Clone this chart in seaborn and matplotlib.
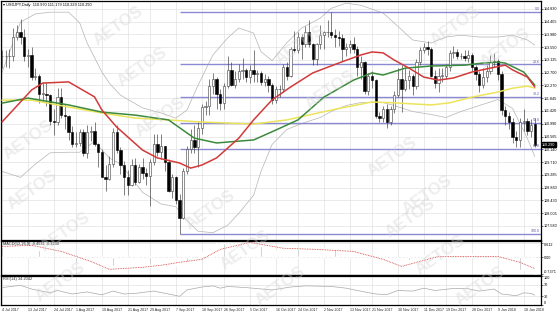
import numpy as np
import matplotlib
matplotlib.use("Agg")
import matplotlib.pyplot as plt
import seaborn as sns

sns.set_style("white")
plt.rcParams['font.family'] = ['Liberation Sans', 'DejaVu Sans']

# ---------------- data ----------------
opens = [113.25,113.25,113.25,113.25,113.90,114.05,113.90,113.25,113.30,112.55,
         112.60,112.00,112.00,111.95,111.10,111.05,111.90,111.30,111.25,110.70,
         110.30,110.35,110.70,110.00,110.70,110.75,110.30,110.05,109.20,109.15,
         109.65,110.70,110.10,109.60,109.20,108.95,109.60,109.05,109.55,109.35,
         109.25,109.70,110.30,110.05,110.25,109.70,108.75,109.20,108.45,107.85,
         109.40,110.15,110.45,110.20,110.85,111.55,111.60,112.25,112.50,112.00,
         111.70,112.25,112.80,112.30,112.50,112.75,112.80,112.55,112.80,112.65,
         112.70,112.40,112.50,112.30,111.80,112.15,112.15,112.90,112.60,113.50,
         113.45,113.90,113.65,114.05,113.65,113.15,113.65,113.95,114.05,114.05,
         113.95,113.90,113.85,113.50,113.55,113.65,113.50,112.90,113.05,112.10,
         112.60,112.45,111.25,111.20,111.50,111.05,111.50,111.95,112.50,112.15,
         112.45,112.60,112.25,113.05,113.45,113.55,113.50,112.60,112.35,112.60,
         112.60,112.90,113.35,113.40,113.25,113.25,113.20,113.30,112.90,112.65,
         112.30,112.55,112.75,113.05,113.10,112.65,111.45,111.25,111.05,110.55,
         110.45,111.05,111.10,110.75,110.97]
highs = [113.45,113.45,113.50,114.20,114.30,114.49,114.15,113.50,113.55,112.85,
         112.65,112.40,112.40,112.00,111.50,112.20,112.20,111.65,111.30,110.90,
         110.70,110.80,110.80,110.95,110.90,111.05,110.35,110.15,109.60,109.90,
         110.85,110.95,110.20,109.75,109.45,109.80,109.85,109.65,109.85,109.50,
         109.80,110.65,110.65,110.65,110.25,109.80,109.30,109.25,108.65,109.50,
         110.25,110.80,110.95,111.05,111.65,111.75,112.50,112.70,112.55,112.15,
         112.35,113.25,113.05,112.75,113.00,113.20,112.85,112.95,113.45,112.80,
         112.75,112.65,112.60,112.35,112.25,112.30,113.00,113.05,113.55,114.10,
         114.05,114.00,114.25,114.45,113.70,113.70,114.30,114.10,114.45,114.73,
         114.15,114.10,114.00,113.70,113.80,113.90,113.60,113.25,113.10,112.70,
         112.75,112.50,111.40,111.60,111.65,111.60,112.10,112.85,112.95,112.90,
         112.80,112.65,113.15,113.55,113.70,113.75,113.55,112.80,112.85,112.85,
         113.00,113.45,113.60,113.50,113.35,113.45,113.45,113.35,112.95,112.75,
         112.85,112.95,113.30,113.35,113.15,112.75,111.60,111.40,111.20,110.75,
         111.20,111.50,111.20,111.15,111.18]
lows = [112.85,112.90,112.85,113.10,113.80,113.65,113.10,112.90,112.45,112.45,
        111.70,111.75,111.60,110.95,110.60,110.95,111.20,110.80,110.45,110.20,
        110.20,110.25,109.90,109.85,110.40,110.25,109.55,109.20,108.75,109.10,
        109.55,110.00,109.30,108.60,108.60,108.90,108.95,109.00,109.15,108.95,
        108.25,109.60,109.90,109.80,109.40,108.70,108.50,108.30,107.32,107.80,
        109.30,110.00,110.00,109.55,110.65,111.30,111.30,112.00,111.50,111.45,
        111.50,112.20,112.25,112.20,112.40,112.50,112.40,112.35,112.40,112.40,
        112.30,112.25,112.05,111.65,111.70,111.90,112.05,112.45,112.55,113.40,
        113.35,113.15,113.55,113.55,112.95,112.95,113.50,113.50,113.90,113.85,
        113.55,113.60,113.10,113.25,113.35,113.35,112.60,112.50,112.00,111.95,
        112.20,111.20,111.05,111.05,110.85,110.95,111.35,111.90,111.40,112.10,
        112.15,111.95,112.15,112.95,113.35,113.30,112.55,112.20,112.05,112.40,
        112.50,112.75,113.20,113.15,113.15,113.10,113.05,112.75,112.45,112.05,
        112.20,112.40,112.65,112.90,112.45,111.30,110.95,110.80,110.35,110.20,
        110.20,110.75,110.60,110.55,110.23]
closes = [113.25,113.25,113.25,113.90,114.05,113.90,113.25,113.30,112.55,112.60,
          112.00,112.00,111.95,111.10,111.05,111.90,111.30,111.25,110.70,110.30,
          110.35,110.70,110.00,110.70,110.75,110.30,110.05,109.20,109.15,109.65,
          110.70,110.10,109.60,109.20,108.95,109.60,109.05,109.55,109.35,109.25,
          109.70,110.30,110.05,110.25,109.70,108.75,109.20,108.45,107.85,109.40,
          110.15,110.45,110.20,110.85,111.55,111.60,112.25,112.50,112.00,111.70,
          112.25,112.80,112.30,112.50,112.75,112.80,112.55,112.80,112.65,112.70,
          112.40,112.50,112.30,111.80,112.15,112.15,112.90,112.60,113.50,113.45,
          113.90,113.65,114.05,113.65,113.15,113.65,113.95,114.05,114.05,113.95,
          113.90,113.85,113.50,113.55,113.65,113.50,112.90,113.05,112.10,112.60,
          112.45,111.25,111.20,111.50,111.05,111.50,111.95,112.50,112.15,112.45,
          112.60,112.25,113.05,113.45,113.55,113.50,112.60,112.35,112.60,112.60,
          112.90,113.35,113.40,113.25,113.25,113.20,113.30,112.90,112.65,112.30,
          112.55,112.75,113.05,113.10,112.65,111.45,111.25,111.05,110.55,110.45,
          111.05,111.10,110.75,110.95,110.29]

# indicator lines read at sample bars
red_bar = [0, 8, 11, 18, 25, 27, 31, 38, 42, 48, 51, 54, 58, 64, 68, 73, 78, 84, 91, 97, 100, 103, 106, 110, 114, 118, 122, 127, 132, 136, 138, 142, 144]
red_val = [111.05, 112.12, 112.35, 112.39, 111.89, 111.45, 110.88, 110.11, 109.85, 109.68, 109.51, 109.61, 109.85, 110.51, 111.12, 111.79, 112.22, 112.69, 113.02, 113.29, 113.39, 113.36, 113.12, 112.85, 112.55, 112.45, 112.52, 112.72, 112.85, 112.95, 112.79, 112.55, 112.22]
green_bar = [0, 7, 18, 27, 36, 45, 52, 58, 68, 74, 80, 87, 95, 100, 103, 109, 116, 125, 130, 134, 136, 141, 144]
green_val = [111.68, 111.85, 111.62, 111.38, 111.28, 111.12, 110.51, 110.35, 110.45, 110.78, 111.12, 111.88, 112.45, 112.69, 112.62, 112.85, 112.92, 112.95, 113.02, 113.05, 113.02, 112.72, 112.28]
yellow_bar = [0, 8, 18, 27, 36, 45, 54, 68, 77, 89, 100, 106, 116, 121, 127, 134, 138, 142, 144]
yellow_val = [111.78, 111.78, 111.55, 111.35, 111.18, 111.12, 111.05, 110.98, 111.12, 111.45, 111.72, 111.69, 111.62, 111.69, 111.88, 112.05, 112.18, 112.25, 112.18]
bb_up_bar = [0, 5, 9, 13, 18, 21, 23, 27, 29, 32, 38, 43, 47, 50, 53, 57, 61, 64, 68, 70, 73, 77, 81, 86, 89, 93, 97, 103, 106, 111, 116, 120, 124, 129, 134, 138, 142, 144]
bb_up_val = [112.70, 114.39, 114.66, 114.72, 114.72, 114.36, 113.69, 112.72, 112.35, 111.95, 111.52, 111.35, 111.18, 111.45, 112.28, 113.29, 113.86, 114.19, 114.02, 113.40, 113.10, 113.70, 114.19, 114.52, 114.85, 115.02, 114.95, 114.69, 114.36, 113.79, 113.69, 113.89, 113.95, 113.89, 113.89, 113.95, 113.79, 113.62]
bb_lo_bar = [0, 5, 9, 13, 18, 21, 25, 29, 32, 38, 43, 47, 50, 53, 57, 61, 64, 68, 70, 73, 77, 81, 86, 89, 93, 97, 103, 106, 111, 116, 120, 124, 129, 134, 138, 142, 144]
bb_lo_val = [109.40, 109.20, 109.64, 110.02, 110.04, 110.04, 110.40, 109.85, 109.65, 108.70, 108.31, 108.22, 107.75, 107.40, 107.35, 107.60, 108.00, 108.60, 109.40, 110.30, 110.80, 111.00, 111.20, 111.40, 111.60, 111.70, 111.70, 111.60, 111.40, 111.30, 111.20, 111.40, 111.60, 111.80, 111.50, 110.50, 109.90]

fib_levels = [114.73, 112.98, 111.90, 111.025, 110.15, 107.32]
fib_labels = ["0.0", "23.6", "38.2", "50.0", "61.8", "100.0"]
fib_start = 48

price_ticks = [114.830, 114.405, 113.980, 113.550, 113.125, 112.700, 112.270, 111.845,
               111.420, 110.990, 110.565, 110.140, 109.710, 109.285, 108.860, 108.430,
               108.005, 107.580]
last_price = 110.290

macd_main = [0.45,0.45,0.45,0.52,0.58,0.62,0.58,0.55,0.48,0.42,
             0.33,0.27,0.22,0.10,0.02,0.05,0.00,-0.04,-0.12,-0.20,
             -0.25,-0.26,-0.32,-0.30,-0.27,-0.29,-0.33,-0.42,-0.48,-0.48,
             -0.38,-0.36,-0.38,-0.44,-0.48,-0.44,-0.46,-0.42,-0.40,-0.40,
             -0.36,-0.28,-0.25,-0.20,-0.22,-0.32,-0.32,-0.38,-0.48,-0.38,
             -0.22,-0.08,0.02,0.12,0.25,0.36,0.50,0.60,0.62,0.62,
             0.64,0.70,0.68,0.68,0.68,0.68,0.65,0.64,0.60,0.57,
             0.52,0.48,0.42,0.33,0.30,0.27,0.32,0.32,0.36,0.38,
             0.38,0.40,0.44,0.44,0.38,0.36,0.38,0.40,0.42,0.40,
             0.38,0.36,0.32,0.30,0.28,0.26,0.20,0.16,0.08,0.05,
             0.00,-0.12,-0.28,-0.38,-0.45,-0.47,-0.42,-0.35,-0.28,-0.20,
             -0.14,-0.10,-0.02,0.06,0.12,0.15,0.12,0.08,0.06,0.04,
             0.06,0.12,0.16,0.18,0.18,0.18,0.18,0.14,0.08,0.02,
             0.00,0.00,0.05,0.08,0.04,-0.10,-0.20,-0.30,-0.40,-0.50,
             -0.55,-0.58,-0.62,-0.65,-0.72]
sig_bar = [0, 8, 16, 24, 29, 38, 43, 48, 54, 59, 67, 76, 85, 95, 103, 108, 118, 134, 140, 144]
sig_val = [0.48, 0.53, 0.26, -0.18, -0.53, -0.44, -0.35, -0.22, -0.09, 0.35, 0.66, 0.40, 0.35, 0.26, -0.09, -0.40, 0.04, 0.04, -0.22, -0.50]

rsi_bar = [0, 5, 8, 13, 15, 19, 23, 27, 30, 33, 36, 41, 45, 48, 50, 54, 57, 59, 61, 66, 73, 78, 82, 89, 93, 98, 101, 104, 107, 111, 114, 117, 122, 126, 129, 133, 135, 139, 141, 143, 144]
rsi_val = [60, 68, 55, 42, 50, 38, 45, 35, 48, 38, 40, 48, 38, 30, 52, 62, 66, 58, 64, 60, 52, 62, 66, 64, 58, 45, 38, 36, 50, 48, 58, 50, 57, 56, 48, 55, 38, 32, 42, 40, 34]

tick_bars = [0, 7, 14, 20, 27, 34, 40, 47, 54, 60, 67, 74, 80, 87, 94, 100, 107, 114, 120, 127, 134, 141]
tick_labels = ["4 Jul 2017", "13 Jul 2017", "24 Jul 2017", "1 Aug 2017", "10 Aug 2017",
               "21 Aug 2017", "29 Aug 2017", "7 Sep 2017", "18 Sep 2017", "26 Sep 2017",
               "5 Oct 2017", "16 Oct 2017", "24 Oct 2017", "2 Nov 2017", "13 Nov 2017",
               "21 Nov 2017", "30 Nov 2017", "11 Dec 2017", "19 Dec 2017", "28 Dec 2017",
               "9 Jan 2018", "18 Jan 2018"]

# ---------------- layout ----------------
W, H = 560, 313
fig = plt.figure(figsize=(5.6, 3.13), dpi=100)
fig.patch.set_facecolor("white")

def rect(x0, y0, x1, y1):
    return [x0 / W, 1 - y1 / H, (x1 - x0) / W, (y1 - y0) / H]

ax = fig.add_axes(rect(1, 1, 541, 240))
axm = fig.add_axes(rect(1, 241, 541, 275), sharex=ax)
axr = fig.add_axes(rect(1, 276, 541, 305), sharex=ax)

SP = 3.7
xlim = ((1 - 2) / SP, (541 - 2) / SP)
grid_c = "#dedede"
fs = 2.7

for a in (ax, axm, axr):
    a.set_facecolor("white")
    for s in a.spines.values():
        s.set_color("black")
        s.set_linewidth(0.9)
    a.yaxis.tick_right()
    a.tick_params(axis="y", labelsize=fs, length=1.2, width=0.4, pad=0.8, colors="black")
    a.tick_params(axis="x", length=0)
    a.set_xticks(tick_bars)
    a.grid(True, color=grid_c, lw=0.45)
    a.set_axisbelow(True)
ax.tick_params(labelbottom=False)
axm.tick_params(labelbottom=False)
axr.tick_params(axis="x", labelsize=2.6, length=1.2, width=0.4, pad=0.8)
axr.set_xticklabels(tick_labels, ha="left")
ax.set_xlim(*xlim)

# ---------------- main panel ----------------
o, h, l, c = map(np.array, (opens, highs, lows, closes))
idx = np.arange(len(c))
up = c >= o
ax.vlines(idx, l, h, color="#3a3a3a", lw=0.45, zorder=3)
bb = np.minimum(o, c)
bh = np.maximum(np.abs(c - o), 0.015)
ax.bar(idx[up], bh[up], bottom=bb[up], width=0.62, color="white", edgecolor="#3a3a3a", lw=0.4, zorder=4)
ax.bar(idx[~up], bh[~up], bottom=bb[~up], width=0.62, color="black", edgecolor="black", lw=0.4, zorder=4)

sns.lineplot(x=bb_up_bar, y=bb_up_val, ax=ax, color="#b4b4b4", lw=0.5, zorder=2)
sns.lineplot(x=bb_lo_bar, y=bb_lo_val, ax=ax, color="#b4b4b4", lw=0.5, zorder=2)
sns.lineplot(x=yellow_bar, y=yellow_val, ax=ax, color="#ece45a", lw=1.1, zorder=5)
sns.lineplot(x=green_bar, y=green_val, ax=ax, color="#3c8a3c", lw=1.1, zorder=5)
sns.lineplot(x=red_bar, y=red_val, ax=ax, color="#d23a3a", lw=1.1, zorder=5)

ax.hlines(fib_levels, fib_start, xlim[1], color="#8a8ad2", lw=1.0, zorder=2)
for lv, lb in zip(fib_levels, fib_labels):
    ax.text(xlim[1] - 0.3, lv + 0.02, lb, fontsize=2.6, color="#5a5aa8", ha="right", va="bottom", zorder=6)

ax.set_ylim(107.107, 115.093)
ax.set_yticks(price_ticks)
ax.set_yticklabels([f"{v:.3f}" for v in price_ticks])
ax.set_ylabel("")
ax.text(0.004, 0.993, "\u25be USDJPY,Daily  110.970 111.179 110.229 110.290", transform=ax.transAxes,
        fontsize=2.8, va="top", ha="left", color="black", zorder=7)
ax.text(1.002, (last_price - 107.107) / (115.093 - 107.107), f"{last_price:.3f}", transform=ax.transAxes,
        fontsize=fs, va="center", ha="left", color="white", zorder=8,
        bbox=dict(boxstyle="square,pad=0.12", fc="black", ec="black"))

# ---------------- MACD ----------------
axm.bar(idx, macd_main, width=0.3, color="#b8b8b8", zorder=2)
sns.lineplot(x=sig_bar, y=sig_val, ax=axm, color="#d04040", lw=0.6, linestyle=(0, (1, 1)), zorder=3)
axm.set_ylim(-0.78, 0.72)
axm.set_yticks([0.612, 0.0, -0.7371])
axm.set_yticklabels(["0.612", "0.00", "-0.7371"])
axm.get_yticklabels()[0].set_va("top")
axm.get_yticklabels()[2].set_va("bottom")
axm.set_ylabel("")
axm.text(0.004, 0.96, "MACD(12,26,9) -0.4531 -0.2230", transform=axm.transAxes, fontsize=2.8, va="top", ha="left")

# ---------------- RSI ----------------
sns.lineplot(x=rsi_bar, y=rsi_val, ax=axr, color="#a8a8a8", lw=0.5, zorder=3)
axr.set_ylim(0, 100)
axr.set_yticks([100, 70, 30, 0])
axr.set_yticklabels(["100", "70", "30", "0"])
axr.get_yticklabels()[0].set_va("top")
axr.get_yticklabels()[3].set_va("bottom")
axr.set_ylabel("")
axr.text(0.004, 0.95, "RSI(14) 34.2042", transform=axr.transAxes, fontsize=2.8, va="top", ha="left")

# ---------------- watermarks ----------------
wm = [(118, 26), (142, 67), (300, 45), (330, 90), (455, 26), (505, 48),
      (392, 157), (427, 195), (160, 117), (32, 190), (65, 232), (60, 282),
      (210, 210), (245, 250), (280, 286), (410, 218), (440, 255), (480, 286), (28, 140)]
for (px, py) in wm:
    fig.text(px / W, 1 - py / H, "AETOS", fontsize=12, fontweight="bold", color="#d4d4d4",
             alpha=0.4, rotation=35, ha="center", va="center", zorder=10)

fig.savefig("out.png", dpi=100, facecolor="white")
